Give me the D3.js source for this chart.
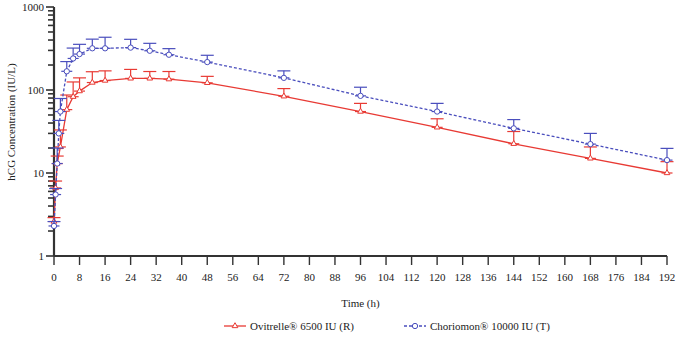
<!DOCTYPE html>
<html lang="en">
<head>
<meta charset="UTF-8">
<title>hCG Concentration</title>
<script src="https://d3js.org/d3.v7.min.js"></script>
<style>
  body { margin: 0; background: #fff; }
</style>
</head>
<body>
<div id="chart"></div>
<script>
// time points (h)
const redTimes  = [0, 0.5, 1, 2, 4, 6, 8, 12, 16, 24, 30, 36, 48, 72, 96, 120, 144, 168, 192];
const redMean   = [2.6, 6.6, 13, 20.6, 58, 83, 97, 123, 130, 138, 138, 135, 122, 84, 55, 35.5, 22.5, 15, 10];
const redUpper  = [2.9, 8, 16, 33, 87, 125, 140, 166, 170, 177, 167, 167, 146, 104, 69, 45, 31.6, 20.6, 13.7];

const blueTimes = [0, 0.5, 1, 1.5, 2, 4, 6, 8, 12, 16, 24, 30, 36, 48, 72, 96, 120, 144, 168, 192];
const blueMean  = [2.3, 5.5, 13, 30, 55, 168, 240, 271, 318, 318, 324, 297, 266, 217, 140, 85, 55, 34.5, 22.3, 14.3];
const blueUpper = [2.6, 6.5, 20, 43, 79, 220, 320, 355, 410, 432, 408, 365, 315, 262, 170, 108, 69, 44, 30, 19.8];

const xTicks = d3.range(0, 193, 8);
const yTickLabels = [1, 10, 100, 1000];
const seriesNames = ["Ovitrelle® 6500 IU (R)", "Choriomon® 10000 IU (T)"];

const W = 676, H = 337;
const svg = d3.select("#chart").append("svg").attr("width", W).attr("height", H)
  .attr("font-family", "'Liberation Serif', 'Times New Roman', 'DejaVu Serif', serif")
  .style("font-family", "'Liberation Serif', 'Times New Roman', 'DejaVu Serif', serif");

const x = d3.scaleLinear().domain([0, 192]).range([54, 667]);
const y = d3.scaleLog().domain([1, 1000]).range([256, 7]);

// minor + major y ticks
const minorVals = [];
[1, 10, 100].forEach(d => { for (let k = 2; k <= 9; k++) minorVals.push(d * k); });

const yAxis = svg.append("g").attr("transform", "translate(54,0)");
yAxis.selectAll("line.minor").data(minorVals).join("line")
  .attr("x1", -6).attr("x2", 0).attr("y1", d => y(d)).attr("y2", d => y(d))
  .attr("stroke", "#333").attr("stroke-width", 1.6);
yAxis.selectAll("line.major").data(yTickLabels).join("line")
  .attr("x1", -8).attr("x2", 0).attr("y1", d => y(d)).attr("y2", d => y(d))
  .attr("stroke", "#333").attr("stroke-width", 1.6);
yAxis.selectAll("text").data(yTickLabels).join("text")
  .attr("x", -10).attr("y", d => y(d)).attr("dy", "0.35em")
  .attr("text-anchor", "end").attr("font-size", 11).attr("fill", "#222").text(d => d);
yAxis.append("line").attr("x1", 0).attr("x2", 0).attr("y1", y(1000)).attr("y2", y(1))
  .attr("stroke", "#333").attr("stroke-width", 2.2);

// x axis
const xAxis = svg.append("g").attr("transform", "translate(0,256)");
xAxis.selectAll("line.tick").data(xTicks).join("line")
  .attr("x1", d => x(d)).attr("x2", d => x(d)).attr("y1", 0).attr("y2", 9)
  .attr("stroke", "#333").attr("stroke-width", 1.4);
xAxis.selectAll("text").data(xTicks).join("text")
  .attr("x", d => x(d)).attr("y", 25).attr("text-anchor", "middle")
  .attr("font-size", 11).attr("fill", "#222").text(d => d);
xAxis.append("line").attr("x1", x(0)).attr("x2", x(192)).attr("y1", 0).attr("y2", 0)
  .attr("stroke", "#333").attr("stroke-width", 2.2);

// axis titles
svg.append("text").attr("x", x(96)).attr("y", 307).attr("text-anchor", "middle")
  .attr("font-size", 11).attr("fill", "#222").text("Time (h)");
svg.append("text").attr("transform", "translate(15,122) rotate(-90)")
  .attr("text-anchor", "middle").attr("font-size", 11).attr("fill", "#222")
  .text("hCG Concentration (IU/L)");

const red = "#e83a34", blue = "#4a4ebd";

function drawSeries(times, mean, upper, color, dash, marker) {
  const pts = times.map((t, i) => ({ t, m: mean[i], u: upper[i] }));
  const g = svg.append("g");
  // error bars: vertical + top cap + dash at the mean
  pts.forEach(p => {
    g.append("line").attr("x1", x(p.t)).attr("x2", x(p.t)).attr("y1", y(p.m)).attr("y2", y(p.u))
      .attr("stroke", color).attr("stroke-width", 1.2);
    g.append("line").attr("x1", x(p.t) - 6.5).attr("x2", x(p.t) + 6.5).attr("y1", y(p.u)).attr("y2", y(p.u))
      .attr("stroke", color).attr("stroke-width", 1.2);
    g.append("line").attr("x1", x(p.t) - 5.5).attr("x2", x(p.t) + 5.5).attr("y1", y(p.m)).attr("y2", y(p.m))
      .attr("stroke", color).attr("stroke-width", 1.2);
  });
  g.append("path").datum(pts)
    .attr("d", d3.line().x(p => x(p.t)).y(p => y(p.m)))
    .attr("fill", "none").attr("stroke", color).attr("stroke-width", 1.3)
    .attr("stroke-dasharray", dash);
  g.selectAll("path.mk").data(pts).join("path")
    .attr("transform", p => `translate(${x(p.t)},${y(p.m)})`)
    .attr("d", marker).attr("fill", "#fff").attr("stroke", color).attr("stroke-width", 1);
}

const tri = d3.symbol().type(d3.symbolTriangle).size(14)();
const circ = d3.symbol().type(d3.symbolCircle).size(22)();

drawSeries(redTimes, redMean, redUpper, red, null, tri);
drawSeries(blueTimes, blueMean, blueUpper, blue, "3,2", circ);

// legend
const legend = [
  { name: seriesNames[0], color: red, dash: null, marker: tri, x0: 224 },
  { name: seriesNames[1], color: blue, dash: "3,2", marker: circ, x0: 404 }
];
legend.forEach(l => {
  const lg = svg.append("g").attr("transform", `translate(${l.x0},326)`);
  lg.append("line").attr("x1", 0).attr("x2", 22).attr("stroke", l.color)
    .attr("stroke-width", 1.3).attr("stroke-dasharray", l.dash);
  lg.append("path").attr("transform", "translate(11,0)").attr("d", l.marker)
    .attr("fill", "#fff").attr("stroke", l.color).attr("stroke-width", 1);
  lg.append("text").attr("x", 26).attr("y", 0).attr("dy", "0.35em")
    .attr("font-size", 11).attr("fill", "#222").text(l.name);
});
</script>
</body>
</html>
